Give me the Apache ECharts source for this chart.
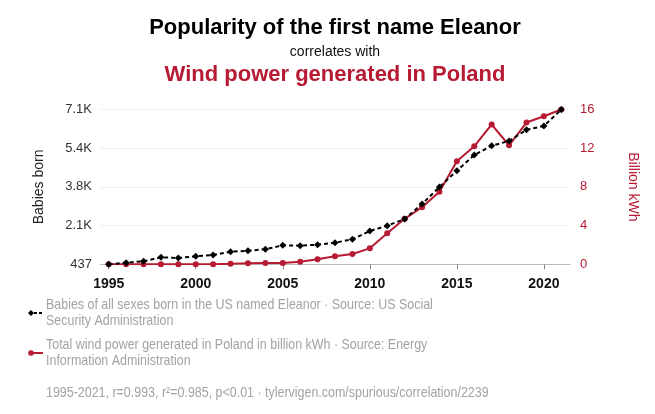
<!DOCTYPE html>
<html><head><meta charset="utf-8">
<script src="https://cdn.jsdelivr.net/npm/echarts@6/dist/echarts.min.js"></script>
<style>html,body{margin:0;padding:0;background:#fff}#c{width:655px;height:414px}</style>
</head><body><div id="c"></div>
<script>
const years = ['1995','1996','1997','1998','1999','2000','2001','2002','2003','2004','2005','2006','2007','2008','2009','2010','2011','2012','2013','2014','2015','2016','2017','2018','2019','2020','2021'];
const babies = [437,506,566,738,708,781,837,979,1022,1083,1255,1238,1281,1367,1513,1870,2099,2386,3032,3764,4466,5141,5541,5744,6230,6390,7100];
const wind = [0.002,0.003,0.004,0.007,0.008,0.005,0.013,0.06,0.12,0.14,0.14,0.26,0.52,0.84,1.07,1.65,3.2,4.7,5.9,7.5,10.65,12.2,14.45,12.3,14.65,15.3,16.0];
const leftTicks = [437,2103,3769,5434,7100];
const leftTickLabels = ['437','2.1K','3.8K','5.4K','7.1K'];

const RED = '#b71a33';
const FONT = '"Liberation Sans", Arial, sans-serif';
const GREY = '#a3a3a3';
const chart = echarts.init(document.getElementById('c'), null, {renderer:'canvas'});

const legendText = (x, y, t) => ({type:'text', x, y, scaleX:0.83, style:{text:t, font:'15px ' + FONT, fill:GREY, textVerticalAlign:'middle', lineHeight:16.6}});

chart.setOption({
  animation:false,
  backgroundColor:'#fff',
  textStyle:{fontFamily:FONT},
  grid:{left:100, right:85, top:109.5, bottom:149.7, containLabel:false},
  xAxis:{
    type:'category', data:years, boundaryGap:true, offset:7,
    axisLine:{show:true, lineStyle:{color:'#bbbbbb', width:1}},
    axisTick:{show:true, interval:4, alignWithLabel:true, length:5, lineStyle:{color:'#888'}},
    axisLabel:{interval:4, color:'#111', fontWeight:'bold', fontSize:14, margin:6, fontFamily:FONT},
    splitLine:{show:false}
  },
  yAxis:[{
    type:'value', min:437, max:7100, position:'left',
    name:'Babies born', nameLocation:'middle', nameGap:54, nameRotate:90,
    nameTextStyle:{color:'#222', fontSize:14, fontFamily:FONT},
    axisLine:{show:false}, axisTick:{show:false, customValues:leftTicks},
    axisLabel:{customValues:leftTicks, color:'#333', fontSize:13, margin:8, fontFamily:FONT,
      formatter:function(v){const i=leftTicks.indexOf(v);return i>=0?leftTickLabels[i]:'';}},
    splitLine:{show:false}
  },{
    type:'value', min:0, max:16, interval:4, position:'right',
    name:'Billion kWh', nameLocation:'middle', nameGap:56, nameRotate:-90,
    nameTextStyle:{color:RED, fontSize:14, fontFamily:FONT},
    axisLine:{show:false}, axisTick:{show:false},
    axisLabel:{color:RED, fontSize:13, margin:10, fontFamily:FONT},
    splitLine:{show:true, lineStyle:{color:'#f1f1f1', width:1}}
  }],
  series:[{
    name:'Wind', type:'line', yAxisIndex:1, data:wind,
    symbol:'circle', symbolSize:6, showSymbol:true,
    lineStyle:{color:RED, width:2}, itemStyle:{color:RED}, z:2
  },{
    name:'Babies', type:'line', yAxisIndex:0, data:babies,
    symbol:'diamond', symbolSize:7, showSymbol:true,
    lineStyle:{color:'#000', width:2, type:[4,3]}, itemStyle:{color:'#000'}, z:3
  }],
  graphic:[
    {type:'text', x:335, y:28, style:{text:'Popularity of the first name Eleanor', font:'bold 22px ' + FONT, fill:'#000', textAlign:'center', textVerticalAlign:'middle'}},
    {type:'text', x:335, y:52, style:{text:'correlates with', font:'14px ' + FONT, fill:'#111', textAlign:'center', textVerticalAlign:'middle'}},
    {type:'text', x:335, y:75, style:{text:'Wind power generated in Poland', font:'bold 22px ' + FONT, fill:RED, textAlign:'center', textVerticalAlign:'middle'}},
    {type:'line', shape:{x1:29, y1:313, x2:44, y2:313}, style:{stroke:'#000', lineWidth:2, lineDash:[3,2]}},
    {type:'polygon', shape:{points:[[31,310],[34,313],[31,316],[28,313]]}, style:{fill:'#000'}},
    legendText(46, 313, 'Babies of all sexes born in the US named Eleanor · Source: US Social\nSecurity Administration'),
    {type:'line', shape:{x1:29, y1:353, x2:43, y2:353}, style:{stroke:RED, lineWidth:2}},
    {type:'circle', shape:{cx:31, cy:353, r:2.8}, style:{fill:RED}},
    legendText(46, 353, 'Total wind power generated in Poland in billion kWh · Source: Energy\nInformation Administration'),
    legendText(46, 393, '1995-2021, r=0.993, r²=0.985, p<0.01 · tylervigen.com/spurious/correlation/2239')
  ]
});
</script></body></html>
